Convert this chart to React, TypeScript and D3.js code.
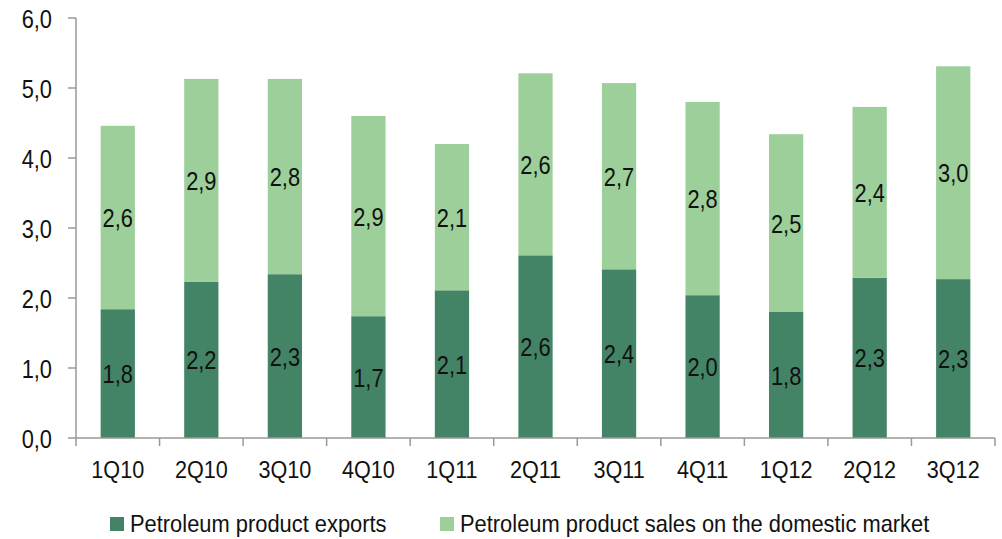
import React from "react";
import * as d3 from "d3";

const categories = ["1Q10", "2Q10", "3Q10", "4Q10", "1Q11", "2Q11", "3Q11", "4Q11", "1Q12", "2Q12", "3Q12"];
const exportsVals = [1.84, 2.23, 2.34, 1.74, 2.11, 2.61, 2.41, 2.04, 1.8, 2.29, 2.27];
const domesticVals = [2.62, 2.9, 2.79, 2.86, 2.09, 2.6, 2.66, 2.76, 2.54, 2.44, 3.04];
const yTicks = [0, 1, 2, 3, 4, 5, 6];
const seriesNames = ["Petroleum product exports", "Petroleum product sales on the domestic market"];
const colors = ["#448466", "#9ccf9a"];

const fmt = (v: number) => v.toFixed(1).replace(".", ",");

function T({ x, y, anchor = "start", size, sx, children }: { x: number; y: number; anchor?: string; size: number; sx: number; children: React.ReactNode }) {
  return (
    <text transform={`translate(${x},${y}) scale(${sx},1)`} textAnchor={anchor} fontSize={size} fill="#111">
      {children}
    </text>
  );
}

export default function App() {
  const W = 1002, H = 539;
  const left = 76, right = 995, top = 18, bottom = 438;
  const x = d3.scaleBand<string>().domain(categories).range([left, right]).paddingInner(0.59).paddingOuter(0.295);
  const y = d3.scaleLinear().domain([0, 6]).range([bottom, top]);
  const font = "'Liberation Sans', Arial, sans-serif";
  const step = (right - left) / categories.length;
  const bigSize = 26, bigSx = 0.84, midSize = 24, midSx = 0.9, legSx = 0.912;
  const capOff = 9.5;

  return (
    <svg width={W} height={H} style={{ position: "absolute", left: 0, top: 0 }} fontFamily={font}>
      <rect width={W} height={H} fill="#fff" />
      {categories.map((c, i) => {
        const e = exportsVals[i], d = domesticVals[i];
        const bx = x(c)!;
        const bw = x.bandwidth();
        return (
          <g key={c}>
            <rect x={bx} y={y(e)} width={bw} height={y(0) - y(e)} fill={colors[0]} />
            <rect x={bx} y={y(e + d)} width={bw} height={y(e) - y(e + d)} fill={colors[1]} />
            <T x={bx + bw / 2} y={(y(0) + y(e)) / 2 + capOff} anchor="middle" size={bigSize} sx={bigSx}>{fmt(e)}</T>
            <T x={bx + bw / 2} y={(y(e) + y(e + d)) / 2 + capOff} anchor="middle" size={bigSize} sx={bigSx}>{fmt(d)}</T>
          </g>
        );
      })}
      {/* y axis */}
      <line x1={left} x2={left} y1={top} y2={bottom} stroke="#999" strokeWidth={1.5} />
      {yTicks.map((t) => (
        <g key={t}>
          <line x1={left - 8} x2={left} y1={y(t)} y2={y(t)} stroke="#999" strokeWidth={1.5} />
          <T x={52} y={y(t) + capOff} anchor="end" size={bigSize} sx={bigSx}>{fmt(t)}</T>
        </g>
      ))}
      {/* x axis */}
      <line x1={left} x2={right} y1={bottom} y2={bottom} stroke="#999" strokeWidth={1.5} />
      {d3.range(categories.length + 1).map((i) => (
        <line key={i} x1={left + i * step} x2={left + i * step} y1={bottom} y2={bottom + 8} stroke="#999" strokeWidth={1.5} />
      ))}
      {categories.map((c) => (
        <T key={c} x={x(c)! + x.bandwidth() / 2} y={478} anchor="middle" size={midSize} sx={midSx}>{c}</T>
      ))}
      {/* legend */}
      <rect x={110} y={517} width={14} height={14} fill={colors[0]} />
      <T x={130} y={532} size={midSize} sx={legSx}>{seriesNames[0]}</T>
      <rect x={440} y={517} width={14} height={14} fill={colors[1]} />
      <T x={460} y={532} size={midSize} sx={legSx}>{seriesNames[1]}</T>
    </svg>
  );
}
